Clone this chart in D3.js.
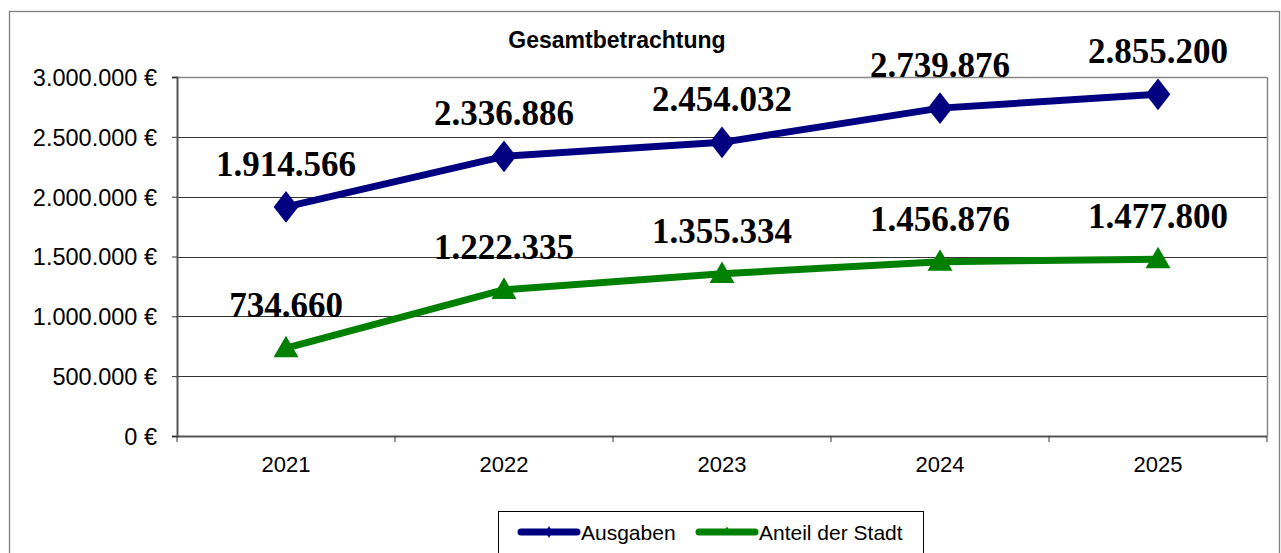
<!DOCTYPE html>
<html>
<head>
<meta charset="utf-8">
<script src="https://cdn.jsdelivr.net/npm/d3@7"></script>
<style>
body{margin:0;background:#fff;}
svg{display:block;}
</style>
</head>
<body>
<div id="chart"></div>
<script>
var years = ["2021","2022","2023","2024","2025"];
var ausgaben = [1914566, 2336886, 2454032, 2739876, 2855200];
var anteil = [734660, 1222335, 1355334, 1456876, 1477800];
var yTicks = [0, 500000, 1000000, 1500000, 2000000, 2500000, 3000000];

var width = 1281, height = 553;
var m = {t:77, r:14, b:117, l:177};

var svg = d3.select("#chart").append("svg")
    .attr("width", width).attr("height", height);

// outer frame
svg.append("rect")
    .attr("x", 9.5).attr("y", 11.5)
    .attr("width", 1270).attr("height", 600)
    .attr("fill", "none").attr("stroke", "#7f7f7f").attr("stroke-width", 1.3);

var x = d3.scaleBand().domain(years).range([m.l, width - m.r]);
var y = d3.scaleLinear().domain([0, 3000000]).range([height - m.b, m.t]);

var fmt = function(v){ return d3.format(",")(v).replace(/,/g, "."); };

// gridlines
svg.append("g").selectAll("line").data(yTicks.slice(1)).enter().append("line")
    .attr("x1", m.l).attr("x2", width - m.r)
    .attr("y1", function(d){ return Math.round(y(d)) + 0.5; })
    .attr("y2", function(d){ return Math.round(y(d)) + 0.5; })
    .attr("stroke", "#333").attr("stroke-width", 1);

// plot area right / top border
svg.append("line")
    .attr("x1", width - m.r + 0.5).attr("x2", width - m.r + 0.5)
    .attr("y1", y(3000000)).attr("y2", y(0))
    .attr("stroke", "#888").attr("stroke-width", 1.5);
svg.append("line")
    .attr("x1", m.l).attr("x2", width - m.r)
    .attr("y1", y(3000000) + 0.5).attr("y2", y(3000000) + 0.5)
    .attr("stroke", "#888").attr("stroke-width", 1.5);

// y axis
var yAxis = d3.axisLeft(y).tickValues(yTicks)
    .tickFormat(function(d){ return fmt(d) + " €"; })
    .tickSize(5).tickPadding(15);
var gy = svg.append("g").attr("transform", "translate(" + m.l + ",0)").call(yAxis);
gy.select(".domain").attr("stroke", "#555").attr("stroke-width", 2);
gy.selectAll(".tick line").attr("stroke", "#333");
gy.selectAll("text").attr("font-family", "Liberation Sans, Arial, sans-serif")
    .attr("font-size", 23.5).attr("fill", "#000").attr("dy", "0.36em");

// x axis
var gx = svg.append("g").attr("transform", "translate(0," + y(0) + ")");
gx.append("line").attr("x1", m.l).attr("x2", width - m.r)
    .attr("y1", 0.5).attr("y2", 0.5).attr("stroke", "#555").attr("stroke-width", 2);
var bounds = years.map(function(d){ return x(d); }).concat([x(years[4]) + x.bandwidth()]);
gx.selectAll(".xt").data(bounds).enter().append("line")
    .attr("x1", function(d){ return d; }).attr("x2", function(d){ return d; })
    .attr("y1", 0).attr("y2", 6).attr("stroke", "#333");
gx.selectAll(".xl").data(years).enter().append("text")
    .attr("x", function(d){ return x(d) + x.bandwidth()/2; })
    .attr("y", 36)
    .attr("text-anchor", "middle")
    .attr("font-family", "Liberation Sans, Arial, sans-serif")
    .attr("font-size", 22).attr("fill", "#000")
    .text(function(d){ return d; });

// title
svg.append("text").attr("x", 617).attr("y", 48)
    .attr("text-anchor", "middle")
    .attr("font-family", "Liberation Sans, Arial, sans-serif")
    .attr("font-weight", "bold").attr("font-size", 23)
    .text("Gesamtbetrachtung");

var cx = function(d, i){ return x(years[i]) + x.bandwidth()/2; };
var line = d3.line().x(function(d, i){ return cx(d, i); }).y(function(d){ return y(d); });

var series = [
    {name:"Ausgaben", values:ausgaben, color:"#000080", sym:d3.symbolDiamond, size:290},
    {name:"Anteil der Stadt", values:anteil, color:"#008000", sym:d3.symbolTriangle, size:270}
];

series.forEach(function(s){
    svg.append("path").datum(s.values)
        .attr("d", line)
        .attr("fill", "none").attr("stroke", s.color).attr("stroke-width", 7);

    svg.selectAll(null).data(s.values).enter().append("path")
        .attr("d", d3.symbol().type(s.sym).size(s.size))
        .attr("transform", function(d, i){
            var sy = s.sym === d3.symbolDiamond ? "scale(1.35,1)" : "translate(0,2)";
            return "translate(" + cx(d, i) + "," + y(d) + ") " + sy;
        })
        .attr("fill", s.color);

    svg.selectAll(null).data(s.values).enter().append("text")
        .attr("x", function(d, i){ return cx(d, i); })
        .attr("y", function(d){ return y(d) - 31; })
        .attr("text-anchor", "middle")
        .attr("font-family", "Liberation Serif, serif")
        .attr("font-weight", "bold").attr("font-size", 35)
        .attr("fill", "#000")
        .text(function(d){ return fmt(d); });
});

// legend
var lg = svg.append("g");
lg.append("rect").attr("x", 498.5).attr("y", 511.5)
    .attr("width", 425).attr("height", 80)
    .attr("fill", "#fff").attr("stroke", "#000").attr("stroke-width", 1);
var legX = [521, 699];
series.forEach(function(s, i){
    var g = lg.append("g").attr("transform", "translate(" + legX[i] + ",532)");
    g.append("line").attr("x1", 0).attr("x2", 56).attr("y1", 0).attr("y2", 0)
        .attr("stroke", s.color).attr("stroke-width", 7).attr("stroke-linecap", "round");
    g.append("path").attr("d", d3.symbol().type(s.sym).size(40))
        .attr("transform", "translate(28,0)").attr("fill", s.color);
    g.append("text").attr("x", 60).attr("y", 8)
        .attr("font-family", "Liberation Sans, Arial, sans-serif")
        .attr("font-size", 21).attr("fill", "#000")
        .text(s.name);
});
</script>
</body>
</html>
